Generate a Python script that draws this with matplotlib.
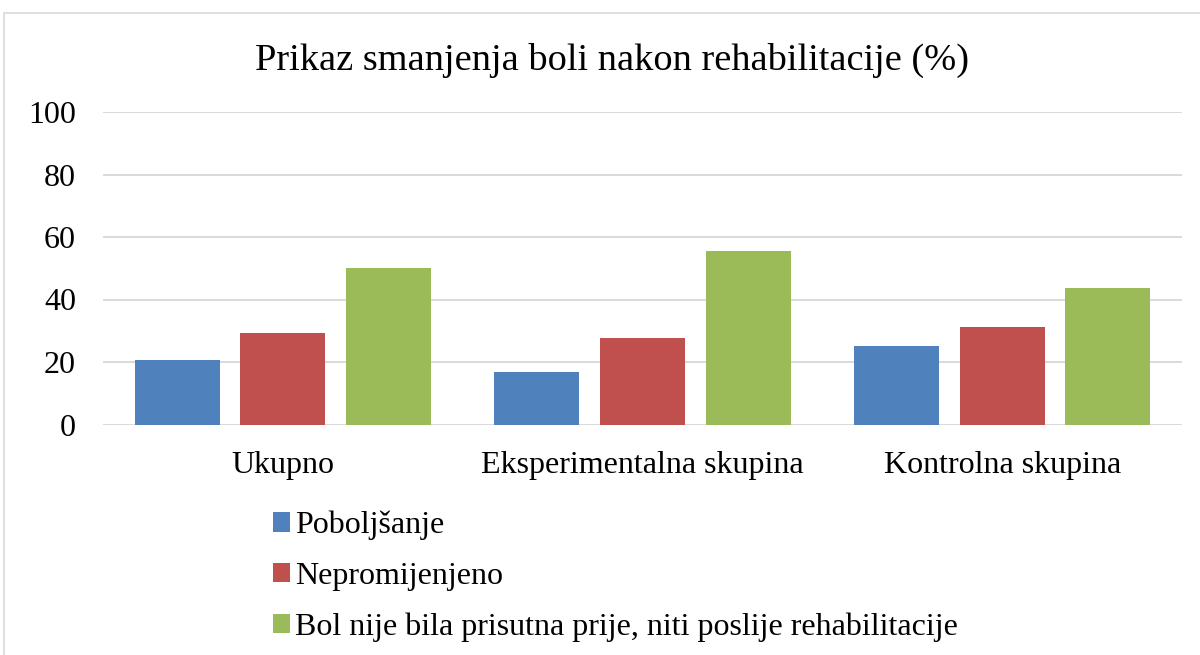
import matplotlib
matplotlib.use("Agg")
import matplotlib.pyplot as plt
from matplotlib.patches import Rectangle, Patch
import numpy as np

categories = ["Ukupno", "Eksperimentalna skupina", "Kontrolna skupina"]
series_names = ["Poboljšanje", "Nepromijenjeno",
                "Bol nije bila prisutna prije, niti poslije rehabilitacije"]
poboljsanje = [20.6, 16.7, 25.0]
nepromijenjeno = [29.4, 27.8, 31.3]
bez_boli = [50.0, 55.6, 43.8]
y_ticks = [0, 20, 40, 60, 80, 100]

colors = ["#4F81BD", "#C0504D", "#9BBB59"]
series = [poboljsanje, nepromijenjeno, bez_boli]

plt.rcParams['font.family'] = ['Liberation Serif', 'DejaVu Serif']

fig = plt.figure(figsize=(12, 6.55), dpi=100)
ax = fig.add_axes([103/1200, 1-424.5/655, (1182-103)/1200, (424.5-112)/655])

x = np.arange(len(categories))
width = 0.236
pitch = 0.294
for i, (vals, c) in enumerate(zip(series, colors)):
    ax.bar(x + (i-1)*pitch, vals, width=width, color=c, zorder=3, label=series_names[i])

ax.set_xlim(-0.5, 2.5)
ax.set_ylim(0, 100)
ax.set_yticks(y_ticks)
ax.set_yticklabels([str(t) for t in y_ticks])
ax.set_xticks(x)
ax.set_xticklabels(categories)
ax.tick_params(axis='both', length=0, labelsize=23, colors='black')
ax.tick_params(axis='y', pad=19.5)
ax.tick_params(axis='x', pad=19)
ax.yaxis.grid(True, color='#D9D9D9', lw=1.4, zorder=0)
for s in ax.spines.values():
    s.set_visible(False)

fig.text(612/1200, 1-60/655, "Prikaz smanjenja boli nakon rehabilitacije (%)",
         ha='center', va='center', fontsize=27.6)

handles = [Patch(facecolor=c) for c in colors]
fig.legend(handles, series_names, loc='upper left',
           bbox_to_anchor=(260/1200, 1-498/655), frameon=False, fontsize=23,
           handlelength=0.55, handleheight=0.55, handletextpad=0.15,
           labelspacing=0.67, borderaxespad=0)

fig.add_artist(Rectangle((4/1200, -0.1), 1.2, 1-13/655+0.1, transform=fig.transFigure,
                         fill=False, edgecolor='#D9D9D9', lw=1.2))

fig.savefig("out.png", dpi=100)
